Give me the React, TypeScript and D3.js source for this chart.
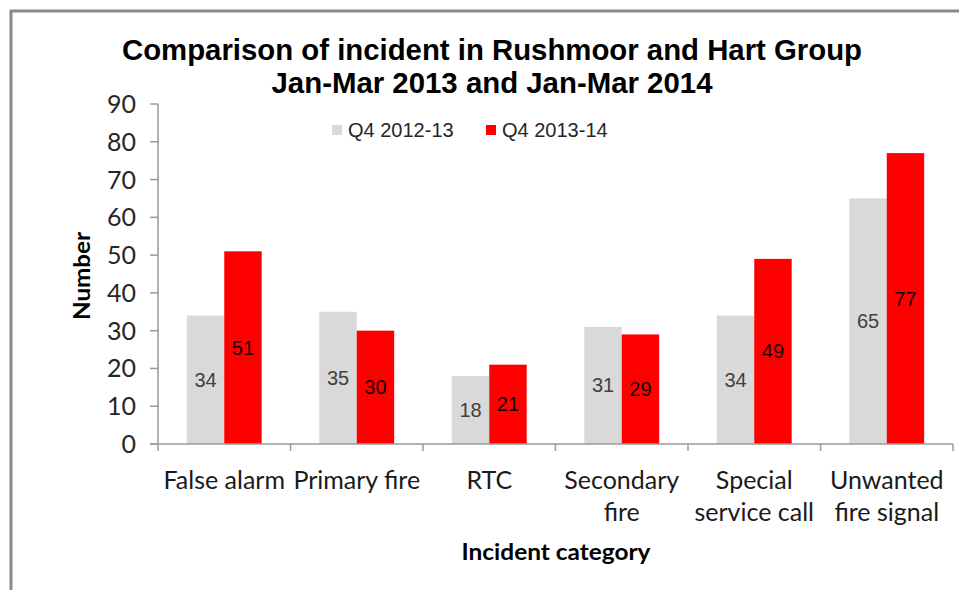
import React from "react";
import * as d3 from "d3";

const categories: string[][] = [
  ["False alarm"],
  ["Primary fire"],
  ["RTC"],
  ["Secondary", "fire"],
  ["Special", "service call"],
  ["Unwanted", "fire signal"],
];
const seriesNames = ["Q4 2012-13", "Q4 2013-14"];
const q4_2012_13 = [34, 35, 18, 31, 34, 65];
const q4_2013_14 = [51, 30, 21, 29, 49, 77];
const yTicks = [0, 10, 20, 30, 40, 50, 60, 70, 80, 90];
const titleLines = [
  "Comparison of incident in Rushmoor and Hart Group",
  "Jan-Mar 2013 and Jan-Mar 2014",
];

const W = 959;
const H = 590;
const plotLeft = 158;
const plotRight = 953;
const plotTop = 104;
const plotBottom = 444;

const colors = ["#d9d9d9", "#ff0000"];
const labelColors = ["#404040", "#1a0000"];
const axisColor = "#9a9a9a";

export default function App() {
  const catKeys = categories.map((c) => c.join(" "));
  const x0 = d3.scaleBand<string>().domain(catKeys).range([plotLeft, plotRight]).paddingInner(0).paddingOuter(0);
  const x1 = d3
    .scaleBand<string>()
    .domain(seriesNames)
    .range([0, x0.bandwidth()])
    .paddingInner(0)
    .paddingOuter(0.77);
  const y = d3.scaleLinear().domain([0, 90]).range([plotBottom, plotTop]);
  const series = [q4_2012_13, q4_2013_14];

  const boundaries = [...catKeys.map((k) => x0(k) as number), plotRight];

  return (
    <svg width={W} height={H} style={{ position: "absolute", left: 0, top: 0, background: "#fff" }}>
      <rect x={0} y={0} width={W} height={H} fill="#fff" />
      {/* frame */}
      <path d={`M11,${H} L11,11 L${W},11`} fill="none" stroke="#8a8a8a" strokeWidth={3} />

      {/* title */}
      <g fontFamily="'Liberation Sans Narrow', 'Arial Narrow', 'Liberation Sans', Arial, sans-serif" fontWeight="bold" fill="#000" textAnchor="middle">
        <text x={492} y={60} fontSize={29} textLength={740} lengthAdjust="spacingAndGlyphs">{titleLines[0]}</text>
        <text x={492} y={93} fontSize={29} textLength={441} lengthAdjust="spacingAndGlyphs">{titleLines[1]}</text>
      </g>

      {/* bars */}
      {series.map((vals, si) =>
        vals.map((v, ci) => {
          const bx = (x0(catKeys[ci]) as number) + (x1(seriesNames[si]) as number);
          const bw = x1.bandwidth();
          return (
            <g key={`${si}-${ci}`}>
              <rect x={bx} y={y(v)} width={bw} height={plotBottom - y(v)} fill={colors[si]} />
              <text
                x={bx + bw / 2}
                y={y(v / 2)}
                dy="0.35em"
                textAnchor="middle"
                fontFamily="'Liberation Sans', Arial, sans-serif"
                fontSize={20}
                fill={labelColors[si]}
              >
                {v}
              </text>
            </g>
          );
        })
      )}

      {/* y axis */}
      <line x1={plotLeft} x2={plotLeft} y1={plotTop} y2={plotBottom} stroke={axisColor} strokeWidth={1.5} />
      {yTicks.map((t) => (
        <g key={t}>
          <line x1={plotLeft - 8} x2={plotLeft} y1={y(t)} y2={y(t)} stroke={axisColor} strokeWidth={1.5} />
          <text
            x={plotLeft - 22}
            y={y(t)}
            dy="0.36em"
            textAnchor="end"
            fontFamily="Lato, 'Open Sans', sans-serif"
            fontSize={25}
            fill="#262626"
          >
            {t}
          </text>
        </g>
      ))}

      {/* x axis */}
      <line x1={plotLeft - 8} x2={plotRight} y1={plotBottom} y2={plotBottom} stroke={axisColor} strokeWidth={1.5} />
      {boundaries.map((b, i) => (
        <line key={i} x1={b} x2={b} y1={plotBottom} y2={plotBottom + 7} stroke={axisColor} strokeWidth={1.5} />
      ))}
      {categories.map((lines, ci) => {
        const cx = (x0(catKeys[ci]) as number) + x0.bandwidth() / 2;
        return (
          <text
            key={ci}
            textAnchor="middle"
            fontFamily="Lato, 'Open Sans', sans-serif"
            fontSize={25}
            fill="#1a1a1a"
          >
            {lines.map((l, li) => (
              <tspan key={li} x={cx} y={489 + li * 32}>
                {l}
              </tspan>
            ))}
          </text>
        );
      })}

      {/* axis titles */}
      <text
        x={556}
        y={560}
        textAnchor="middle"
        fontFamily="Lato, 'Open Sans', sans-serif"
        fontWeight="bold"
        fontSize={23}
        fill="#000"
        textLength={189}
        lengthAdjust="spacingAndGlyphs"
      >
        Incident category
      </text>
      <text
        transform="translate(90,276) rotate(-90)"
        textAnchor="middle"
        fontFamily="Lato, 'Open Sans', sans-serif"
        fontWeight="bold"
        fontSize={23}
        fill="#000"
        textLength={88}
        lengthAdjust="spacingAndGlyphs"
      >
        Number
      </text>

      {/* legend */}
      {seriesNames.map((s, i) => {
        const lx = 332 + i * 154;
        return (
          <g key={s}>
            <rect x={lx} y={125} width={10} height={10} fill={colors[i]} />
            <text
              x={lx + 16}
              y={130}
              dy="0.36em"
              fontFamily="'Liberation Sans', Arial, sans-serif"
              fontSize={20}
              fill="#262626"
            >
              {s}
            </text>
          </g>
        );
      })}
    </svg>
  );
}
